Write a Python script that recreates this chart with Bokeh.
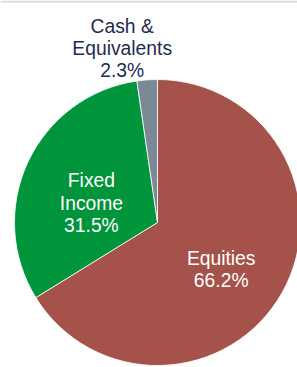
import math
from bokeh.plotting import figure
from bokeh.models import ColumnDataSource, Range1d, Span
from bokeh.core.properties import value
from bokeh.embed import file_html
from bokeh.resources import INLINE

categories = ["Equities", "Fixed Income", "Cash & Equivalents"]
shares = [66.2, 31.5, 2.3]
label_lines = [["Equities"], ["Fixed", "Income"], ["Cash &", "Equivalents"]]
colors = ["#A5524A", "#00953B", "#7A8995"]
text_colors = ["#FFFFFF", "#FFFFFF", "#1F2B52"]

W, H = 297, 367
CX, CY = 157, 222
R = 143
LINE = 22.2
p = figure(width=W, height=H, output_backend="svg", toolbar_location=None,
           x_range=Range1d(-CX, W - CX), y_range=Range1d(-(H - CY), CY),
           min_border=0, outline_line_color=None)
p.axis.visible = False
p.grid.visible = False
p.background_fill_color = "white"
p.border_fill_color = "white"

total = sum(shares)
starts, ends, mids = [], [], []
acc = 0.0
for s in shares:
    a0 = math.pi / 2 - 2 * math.pi * acc / total
    acc += s
    a1 = math.pi / 2 - 2 * math.pi * acc / total
    starts.append(a0)
    ends.append(a1)
    mids.append((a0 + a1) / 2)

src = ColumnDataSource(dict(start=starts, end=ends, color=colors, cat=categories))
p.wedge(x=0, y=0, radius=R, start_angle="start", end_angle="end", direction="clock",
        fill_color="color", line_color="white", line_width=0.8, source=src)

lx, ly, txt, tc = [], [], [], []
for i, (m, s) in enumerate(zip(mids, shares)):
    lines = label_lines[i] + [f"{s:.1f}%"]
    if s > 10:
        x = 0.51 * R * math.cos(m)
        ymean = 0.51 * R * math.sin(m) - 11.5
    else:
        x = R * math.cos(m) - 25
        ymean = R + 31
    n = len(lines)
    for k, t in enumerate(lines):
        lx.append(x)
        ly.append(ymean + ((n - 1) / 2 - k) * LINE)
        txt.append(t)
        tc.append(text_colors[i])

lsrc = ColumnDataSource(dict(x=lx, y=ly, t=txt, c=tc))
p.text(x="x", y="y", text="t", source=lsrc, text_color="c",
       text_font=value("Liberation Sans"), text_font_size="19.3px",
       text_align="center", text_baseline="alphabetic")

p.add_layout(Span(location=CY - 1, dimension="width", line_color="#D9D9D9", line_width=2))

open("out.html", "w").write(file_html(p, INLINE))
